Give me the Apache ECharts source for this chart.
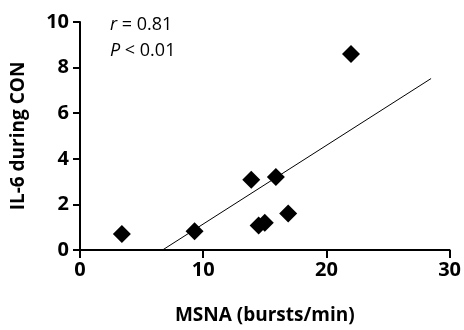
<!DOCTYPE html>
<html><head><meta charset="utf-8">
<script src="https://cdn.jsdelivr.net/npm/echarts@6/dist/echarts.min.js"></script>
<style>html,body{margin:0;padding:0;background:#fff}#c{width:464px;height:330px}</style>
</head><body><div id="c"></div>
<script>
const msna = [3.4, 9.3, 13.9, 15.9, 14.5, 15.0, 16.9, 22.0];
const il6 = [0.7, 0.82, 3.08, 3.2, 1.08, 1.2, 1.6, 8.6];
const fitX = [6.7, 28.5];
const fitY = [0, 7.52];
const xTicks = [0, 10, 20, 30];
const yTicks = [0, 2, 4, 6, 8, 10];
const FONT = '"Open Sans"';
const chart = echarts.init(document.getElementById('c'), null, {renderer: 'canvas'});
const richStyle = {
  i: {fontFamily: FONT, fontStyle: 'italic', fontSize: 18, fill: '#000', lineHeight: 22},
  n: {fontFamily: FONT, fontSize: 18, fill: '#000', lineHeight: 22}
};
chart.setOption({
  animation: false,
  backgroundColor: '#fff',
  grid: {left: 80, right: 14, top: 22, bottom: 79, containLabel: false},
  xAxis: {
    type: 'value', min: xTicks[0], max: xTicks[xTicks.length-1], interval: 10,
    name: 'MSNA (bursts/min)', nameLocation: 'middle', nameGap: 56,
    nameTextStyle: {fontFamily: FONT, fontWeight: 'bold', fontSize: 19, color: '#000'},
    axisLine: {lineStyle: {color: '#000', width: 2}},
    axisTick: {show: true, length: 8, lineStyle: {color: '#000', width: 2}},
    axisLabel: {fontFamily: FONT, fontWeight: 'bold', fontSize: 20, color: '#000', margin: 10},
    splitLine: {show: false}
  },
  yAxis: {
    type: 'value', min: yTicks[0], max: yTicks[yTicks.length-1], interval: 2,
    name: 'IL-6 during CON', nameLocation: 'middle', nameGap: 52, nameRotate: 90,
    nameTextStyle: {fontFamily: FONT, fontWeight: 'bold', fontSize: 19, color: '#000'},
    axisLine: {show: true, lineStyle: {color: '#000', width: 2}},
    axisTick: {show: true, length: 7, lineStyle: {color: '#000', width: 2}},
    axisLabel: {fontFamily: FONT, fontWeight: 'bold', fontSize: 20, color: '#000', margin: 11},
    splitLine: {show: false}
  },
  series: [
    {
      type: 'scatter', symbol: 'diamond', symbolSize: [18, 18],
      itemStyle: {color: '#000', opacity: 1},
      data: msna.map((x, i) => [x, il6[i]]), z: 3
    },
    {
      type: 'line', symbol: 'none', silent: true,
      lineStyle: {color: '#000', width: 1},
      data: fitX.map((x, i) => [x, fitY[i]]), z: 2
    }
  ],
  graphic: [
    {type: 'text', left: 110, top: 16, style: {
      text: '{i|r}{n| = 0.81}', rich: richStyle}},
    {type: 'text', left: 110, top: 42, style: {
      text: '{i|P}{n| < 0.01}', rich: richStyle}}
  ]
});
</script></body></html>
